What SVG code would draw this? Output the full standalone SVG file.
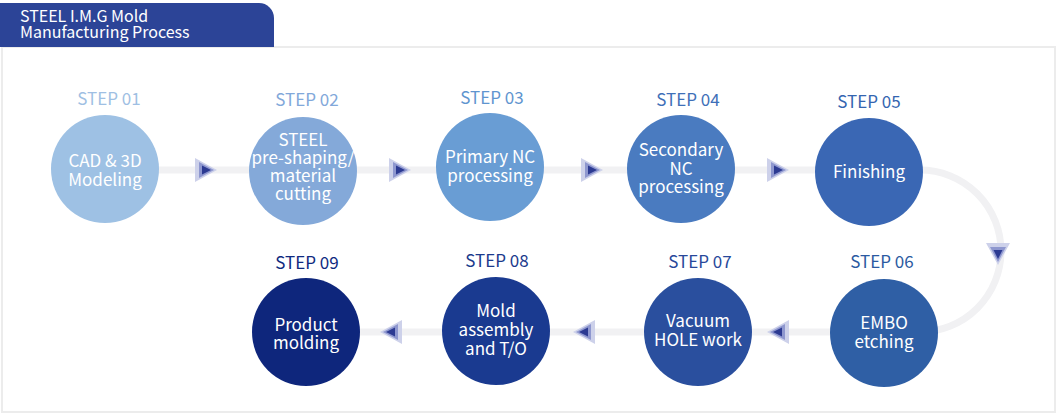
<svg xmlns="http://www.w3.org/2000/svg" xmlns:xlink="http://www.w3.org/1999/xlink" width="1058" height="416" viewBox="0 0 1058 416">
<style>
text{font-family:"Noto Sans CJK KR","Noto Sans","Liberation Sans",sans-serif;}
.step{font-size:17px;text-anchor:middle;}
.lbl{font-size:17px;fill:#ffffff;text-anchor:middle;}
.hd{font-size:16px;fill:#ffffff;}
.flow{fill:none;stroke:#f1f1f3;stroke-width:7;}
</style>
<defs>
<g id="arr">
<polygon points="-11,-12 11,0 -11,12" fill="#cdd1ea"/>
<polygon points="-7,-8 8,0 -7,8" fill="#8e97cf"/>
<polygon points="-4,-4.5 5,0 -4,4.5" fill="#2c3a92"/>
</g>
</defs>
<rect x="0" y="0" width="1058" height="416" fill="#ffffff"/>
<rect x="2" y="47" width="1053" height="365" fill="#ffffff" stroke="#ececec" stroke-width="2"/>
<g id="header">
<path d="M0 3 H259 A15 15 0 0 1 274 18 V47 H0 Z" fill="#2c4497"/>
<text class="hd" x="20" y="22">STEEL I.M.G Mold</text>
<text class="hd" x="20" y="38">Manufacturing Process</text>
</g>
<g id="connectors">
<path class="flow" d="M105 170 H920 A81 81 0 0 1 920 332 H306"/>
<use xlink:href="#arr" transform="translate(206,170)"/>
<use xlink:href="#arr" transform="translate(400,170)"/>
<use xlink:href="#arr" transform="translate(592,170)"/>
<use xlink:href="#arr" transform="translate(778,170)"/>
<use xlink:href="#arr" transform="translate(998,254) rotate(90)"/>
<use xlink:href="#arr" transform="translate(778,332) rotate(180)"/>
<use xlink:href="#arr" transform="translate(584,332) rotate(180)"/>
<use xlink:href="#arr" transform="translate(391,332) rotate(180)"/>
</g>
<g id="step01">
<text class="step" x="109" y="105" fill="#9fbfe3">STEP 01</text>
<circle cx="105" cy="169" r="54" fill="#9ec1e4"/>
<text class="lbl" x="105" y="167">CAD &amp; 3D</text>
<text class="lbl" x="105" y="186">Modeling</text>
</g>
<g id="step02">
<text class="step" x="307" y="106" fill="#82a8da">STEP 02</text>
<circle cx="303" cy="171" r="54" fill="#84a9d9"/>
<text class="lbl" x="303" y="146">STEEL</text>
<text class="lbl" x="303" y="164">pre-shaping/</text>
<text class="lbl" x="303" y="182">material</text>
<text class="lbl" x="303" y="200">cutting</text>
</g>
<g id="step03">
<text class="step" x="492" y="104" fill="#5f95cf">STEP 03</text>
<circle cx="490" cy="167" r="54" fill="#699dd4"/>
<text class="lbl" x="490" y="163">Primary NC</text>
<text class="lbl" x="490" y="182">processing</text>
</g>
<g id="step04">
<text class="step" x="688" y="106" fill="#3f70b8">STEP 04</text>
<circle cx="681" cy="169" r="54" fill="#4a7bc0"/>
<text class="lbl" x="681" y="156">Secondary</text>
<text class="lbl" x="681" y="175">NC</text>
<text class="lbl" x="681" y="193">processing</text>
</g>
<g id="step05">
<text class="step" x="869" y="108" fill="#3465b0">STEP 05</text>
<circle cx="869" cy="172" r="54" fill="#3a67b4"/>
<text class="lbl" x="869" y="178">Finishing</text>
</g>
<g id="step06">
<text class="step" x="882" y="268" fill="#2b5aa1">STEP 06</text>
<circle cx="884" cy="333" r="54" fill="#2f5fa5"/>
<text class="lbl" x="884" y="329">EMBO</text>
<text class="lbl" x="884" y="348">etching</text>
</g>
<g id="step07">
<text class="step" x="700" y="268" fill="#28489a">STEP 07</text>
<circle cx="698" cy="332" r="54" fill="#2a4f9e"/>
<text class="lbl" x="698" y="327">Vacuum</text>
<text class="lbl" x="698" y="346">HOLE work</text>
</g>
<g id="step08">
<text class="step" x="497" y="267" fill="#1b3a8c">STEP 08</text>
<circle cx="496" cy="331" r="54" fill="#1a3a90"/>
<text class="lbl" x="496" y="317">Mold</text>
<text class="lbl" x="496" y="336">assembly</text>
<text class="lbl" x="496" y="355">and T/O</text>
</g>
<g id="step09">
<text class="step" x="307" y="269" fill="#0f2a80">STEP 09</text>
<circle cx="306" cy="332" r="54" fill="#0e267c"/>
<text class="lbl" x="306" y="331">Product</text>
<text class="lbl" x="306" y="349">molding</text>
</g>
</svg>
